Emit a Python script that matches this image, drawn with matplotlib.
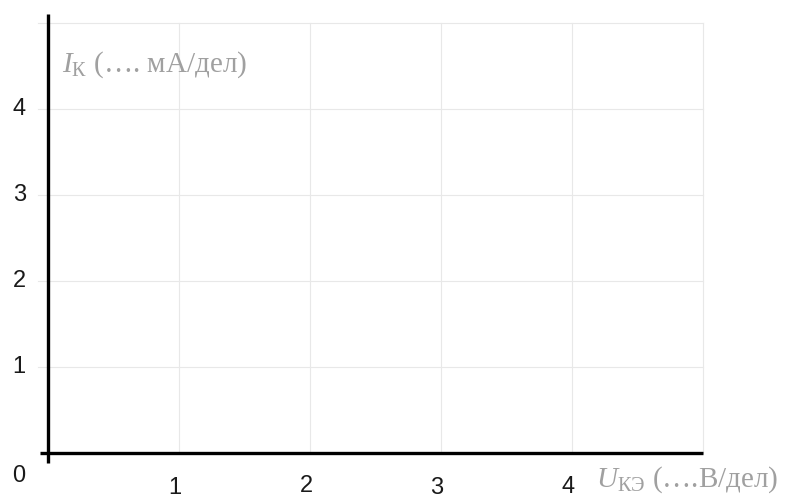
import matplotlib
matplotlib.use("Agg")
import matplotlib.pyplot as plt

plt.rcParams["mathtext.fontset"] = "custom"
plt.rcParams["mathtext.rm"] = "Liberation Serif"
plt.rcParams["mathtext.it"] = "Liberation Serif:italic"
plt.rcParams["mathtext.bf"] = "Liberation Serif:bold"

# data
x_ticks = [1, 2, 3, 4]
y_ticks = [1, 2, 3, 4]
grid_x = [1, 2, 3, 4, 5]
grid_y = [1, 2, 3, 4, 5]
x_tick_labels = ["1", "2", "3", "4"]
y_tick_labels = ["1", "2", "3", "4"]
x_label_offsets = [-0.41, -0.38, -0.41, -0.39]  # slight vertical jitter of labels in the source
y_label = " (…. мА/дел)"
x_label = " (….В/дел)"

W, H = 808, 499
fig = plt.figure(figsize=(W / 100, H / 100), dpi=100)
x0, x5 = 48, 703
y0, y5 = 453, 23
ax = fig.add_axes([x0 / W, (H - y0) / H, (x5 - x0) / W, (y0 - y5) / H])
ax.set_xlim(0, 5)
ax.set_ylim(0, 5)
ax.axis("off")

gcol = "#e8e8e8"
for gx in grid_x:
    ax.plot([gx, gx], [0, 5], color=gcol, lw=0.8, clip_on=False, zorder=1)
for gy in grid_y:
    ax.plot([-0.08, 5], [gy, gy], color=gcol, lw=0.8, clip_on=False, zorder=1)

# axes lines
ax.plot([0, 0], [-0.12, 5.1], color="black", lw=2.4, clip_on=False, zorder=3, solid_capstyle="butt")
ax.plot([-0.06, 5], [0, 0], color="black", lw=2.4, clip_on=False, zorder=3, solid_capstyle="butt")

tick_font = dict(family="Liberation Sans", fontsize=17, color="#1a1a1a")
for v, lab, off in zip(x_ticks, x_tick_labels, x_label_offsets):
    ax.text(v - 0.03, off, lab, ha="center", va="center", clip_on=False, **tick_font)
for v, lab in zip(y_ticks, y_tick_labels):
    ax.text(-0.22, v, lab, ha="center", va="center", clip_on=False, **tick_font)
ax.text(-0.22, -0.27, "0", ha="center", va="center", clip_on=False, **tick_font)

lab_col = "#a0a0a0"
ax.text(0.11, 4.43, r"$\mathit{I}_{\mathrm{К}}$" + y_label, ha="left", va="baseline",
        fontsize=21, color=lab_col, family="Liberation Serif", clip_on=False)
ax.text(4.18, -0.39, r"$\mathit{U}_{\mathrm{КЭ}}$" + x_label, ha="left", va="baseline",
        fontsize=21, color=lab_col, family="Liberation Serif", clip_on=False)

fig.savefig("out.png", dpi=100, facecolor="white")
